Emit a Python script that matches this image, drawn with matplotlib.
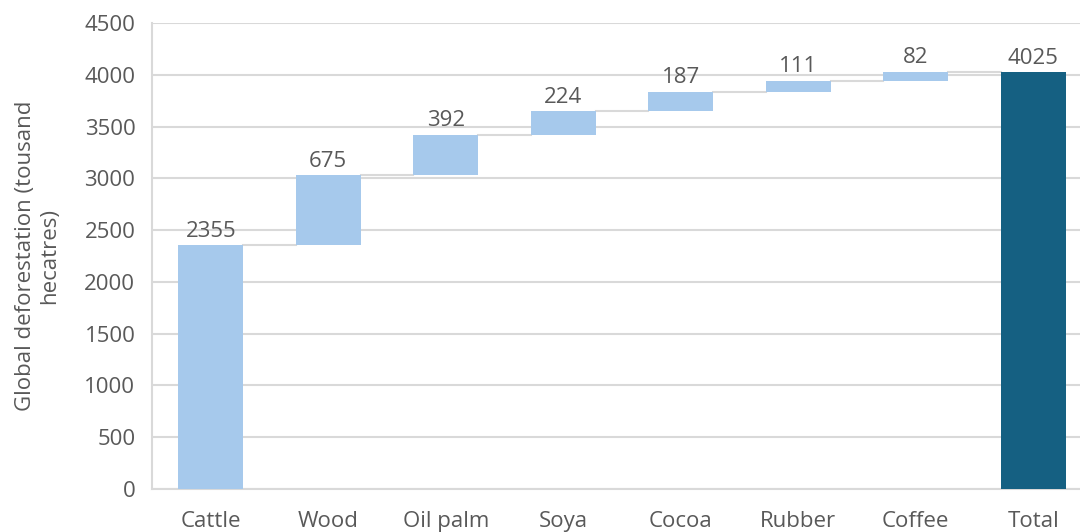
import matplotlib.pyplot as plt
import numpy as np

categories = ["Cattle", "Wood", "Oil palm", "Soya", "Cocoa", "Rubber", "Coffee", "Total"]
values = [2355, 675, 392, 224, 187, 111, 82]
total = 4025

plt.rcParams['font.family'] = ['Open Sans', 'DejaVu Sans']

light = "#a6c9ec"
dark = "#156082"
grey = "#d9d9d9"
txt = "#595959"
fs = 16

fig = plt.figure(figsize=(10.8, 5.32), dpi=100)
ax = fig.add_axes([152 / 1080, 43 / 532, 940 / 1080, 466 / 532])

x = np.arange(len(categories))
w = 0.555
bottoms = np.concatenate([[0], np.cumsum(values)[:-1]])
tops = np.cumsum(values)

ax.bar(x[:-1], values, bottom=bottoms, width=w, color=light, zorder=3)
ax.bar(x[-1], total, width=w, color=dark, zorder=3)

# connector lines
for i in range(len(categories) - 1):
    level = tops[i] if i < len(values) else total
    ax.plot([x[i] + w / 2, x[i + 1] - w / 2], [level, level], color=grey, lw=1.5, zorder=2)

for i, v in enumerate(values):
    ax.text(x[i], tops[i] + 35, str(v), ha="center", va="bottom", fontsize=fs, color=txt)
ax.text(x[-1], total + 35, str(total), ha="center", va="bottom", fontsize=fs, color=txt)

ax.set_xlim(-0.5, len(categories) - 0.5)
ax.set_ylim(0, 4500)
ax.set_yticks(np.arange(0, 4501, 500))
ax.yaxis.grid(True, color=grey, lw=1.5, zorder=0)
ax.set_axisbelow(True)
ax.set_xticks(x)
ax.set_xticklabels(categories)
ax.tick_params(axis="both", length=0, labelsize=fs, colors=txt)
ax.tick_params(axis="x", pad=16)
ax.tick_params(axis="y", pad=12)
for s in ["top", "right"]:
    ax.spines[s].set_visible(False)
for s in ["left", "bottom"]:
    ax.spines[s].set_color(grey)
    ax.spines[s].set_linewidth(1.5)

ax.set_ylabel("Global deforestation (tousand\nhecatres)", fontsize=fs, color=txt)
ax.yaxis.set_label_coords(-0.098, 0.5)

fig.savefig("out.png", dpi=100)
